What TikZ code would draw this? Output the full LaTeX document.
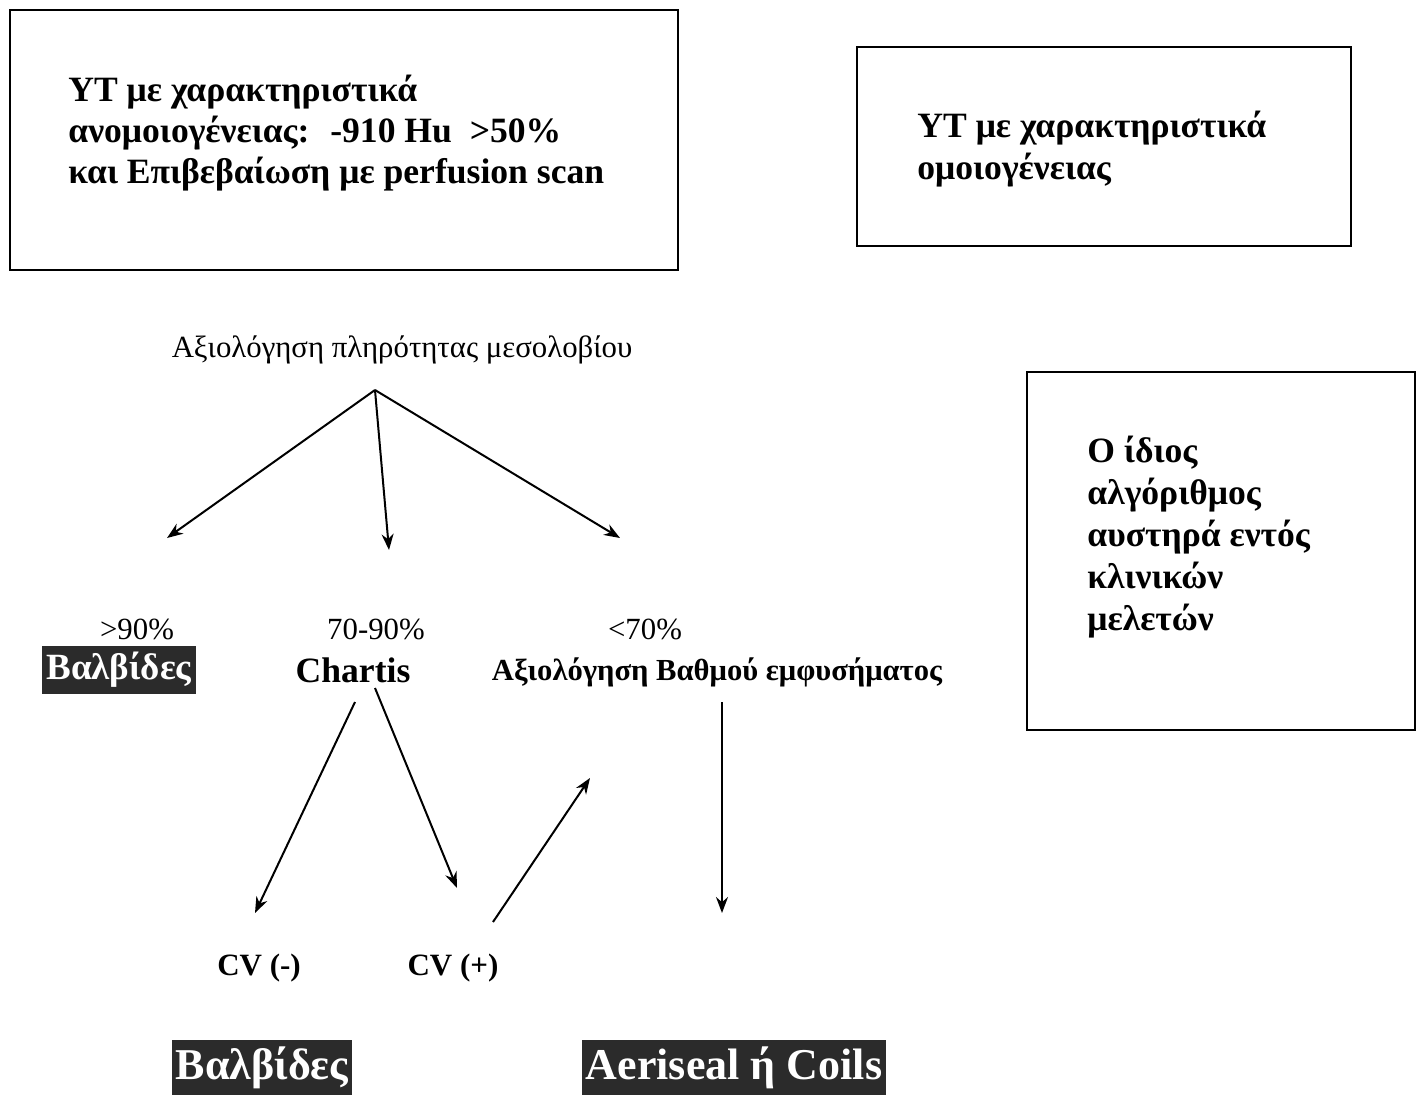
\documentclass[tikz,border=0pt]{standalone}
\usepackage{fontspec}
\setmainfont{Liberation Serif}
\usetikzlibrary{arrows.meta}
\definecolor{darkbg}{HTML}{2B2B2B}
\begin{document}
\begin{tikzpicture}[x=0.5pt,y=-0.5pt,
  frame/.style={draw=black,line width=1.2pt},
  boxtext/.style={anchor=west,align=left,font=\fontsize{17.8}{20.6}\selectfont\bfseries,inner sep=0pt},
  pct/.style={font=\fontsize{15.4}{17}\selectfont,inner sep=0pt},
  bigbold/.style={font=\fontsize{17.8}{19}\selectfont\bfseries,inner sep=0pt},
  gradetext/.style={font=\fontsize{15.3}{17}\selectfont\bfseries,inner sep=0pt},
  cvlab/.style={font=\fontsize{15.5}{17}\selectfont\bfseries,inner sep=0pt},
  darklab/.style={fill=darkbg,text=white,font=\fontsize{18.5}{20}\selectfont\bfseries,inner xsep=2pt,inner ysep=3pt},
  biglab/.style={fill=darkbg,text=white,font=\fontsize{22}{24}\selectfont\bfseries,inner xsep=2pt,inner ysep=3.5pt},
  arr/.style={-{Stealth[length=8pt,width=6pt]},line width=1pt}]
\useasboundingbox (0,0) rectangle (1420,1094);
% boxes
\draw[frame] (10,10) rectangle (678,270);
\node[boxtext] (t1) at (68,133) {ΥΤ με χαρακτηριστικά\\ανομοιογένειας:~ -910 Hu~ >50\%\\και Επιβεβαίωση με perfusion scan};
\draw[frame] (857,47) rectangle (1351,246);
\node[boxtext] (t2) at (917,149) {ΥΤ με χαρακτηριστικά\\ομοιογένειας};
\draw[frame] (1027,372) rectangle (1415,730);
\node[boxtext,font=\fontsize{17.8}{21}\selectfont\bfseries] (t3) at (1087,537) {Ο ίδιος\\αλγόριθμος\\αυστηρά εντός\\κλινικών\\μελετών};
% top label
\node[pct] (eval) at (402,350) {Αξιολόγηση πληρότητας μεσολοβίου};
\coordinate (src) at (375,390);
\coordinate (e1) at (167,538);
\coordinate (e2) at (389,550);
\coordinate (e3) at (620,538);
\draw[arr] (src) -- (e1);
\draw[arr] (src) -- (e2);
\draw[arr] (src) -- (e3);
% percentages
\node[pct] (p1) at (137,629) {>90\%};
\node[pct] (p2) at (376,629) {70-90\%};
\node[pct] (p3) at (645,629) {<70\%};
\node[darklab] (valv1) at (119,670) {Βαλβίδες};
\node[bigbold] (chartis) at (353,670) {Chartis};
\node[gradetext] (grade) at (717,672) {Αξιολόγηση Βαθμού εμφυσήματος};
% CV
\node[cvlab] (cvm) at (259,968) {CV (-)};
\node[cvlab] (cvp) at (453,968) {CV (+)};
\coordinate (c1s) at (355,702);
\coordinate (c1e) at (255,913);
\coordinate (c2s) at (375,688);
\coordinate (c2e) at (457,888);
\coordinate (c3s) at (493,922);
\coordinate (c3e) at (590,778);
\coordinate (c4s) at (722,702);
\coordinate (c4e) at (722,913);
\draw[arr] (c1s) -- (c1e);
\draw[arr] (c2s) -- (c2e);
\draw[arr] (c3s) -- (c3e);
\draw[arr] (c4s) -- (c4e);
% bottom
\node[biglab] (valv2) at (262,1068) {Βαλβίδες};
\node[biglab] (coils) at (734,1068) {Aeriseal ή Coils};
\end{tikzpicture}
\end{document}
